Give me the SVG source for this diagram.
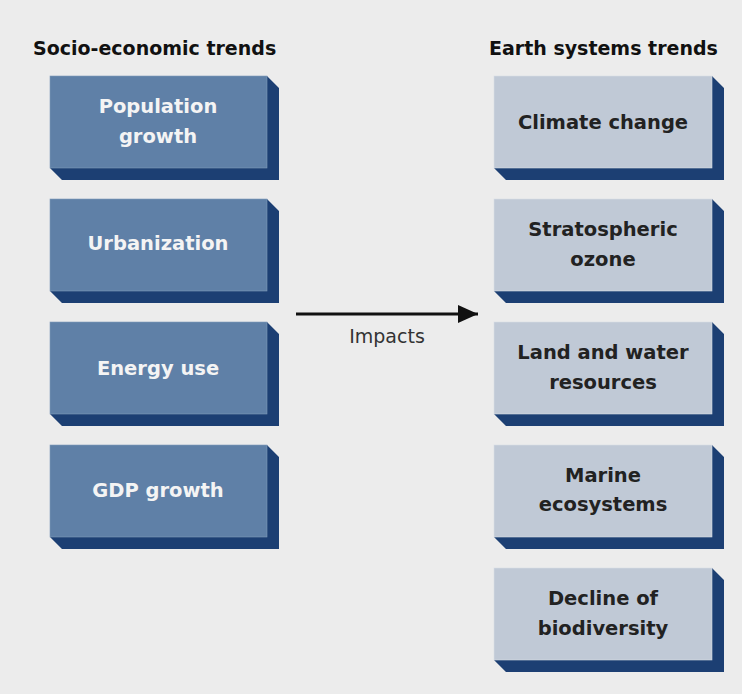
<svg xmlns="http://www.w3.org/2000/svg" width="742" height="694" viewBox="0 0 742 694">
<defs>
<style>
.bg{fill:#ececec}
.side{fill:#1c3f73}
.fl{fill:#5f80a7;stroke:#7f9ab9;stroke-width:0.6}
.fr{fill:#c0c9d6;stroke:#d6dce5;stroke-width:0.6}
.tl{font-family:"DejaVu Sans",Verdana,sans-serif;font-weight:bold;font-size:19.5px;fill:#f4f4f4;text-anchor:middle}
.tr{font-family:"DejaVu Sans",Verdana,sans-serif;font-weight:bold;font-size:19.5px;fill:#222;text-anchor:middle}
.title{font-family:"DejaVu Sans",Verdana,sans-serif;font-weight:bold;font-size:19px;fill:#111}
.lbl{font-family:"DejaVu Sans",Verdana,sans-serif;font-size:19px;fill:#333;text-anchor:middle}
</style>
<marker id="ah" markerWidth="20" markerHeight="18" refX="20" refY="9" orient="auto" markerUnits="userSpaceOnUse" viewBox="0 0 20 18">
<path d="M0,0 L20,9 L0,18 Z" fill="#111"/>
</marker>
</defs>
<rect class="bg" x="0" y="0" width="742" height="694"/>
<text class="title" x="33" y="55">Socio-economic trends</text>
<text class="title" x="489" y="55">Earth systems trends</text>

<g id="population-growth" transform="translate(50,76)">
<path class="side" d="M217,0 L229,12 L229,104 L12,104 L0,92 L217,92 Z"/>
<rect class="fl" x="0" y="0" width="217" height="92"/>
<text class="tl" x="108" y="37">Population</text>
<text class="tl" x="108" y="67">growth</text>
</g>
<g id="urbanization" transform="translate(50,199)">
<path class="side" d="M217,0 L229,12 L229,104 L12,104 L0,92 L217,92 Z"/>
<rect class="fl" x="0" y="0" width="217" height="92"/>
<text class="tl" x="108" y="51">Urbanization</text>
</g>
<g id="energy-use" transform="translate(50,322)">
<path class="side" d="M217,0 L229,12 L229,104 L12,104 L0,92 L217,92 Z"/>
<rect class="fl" x="0" y="0" width="217" height="92"/>
<text class="tl" x="108" y="53">Energy use</text>
</g>
<g id="gdp-growth" transform="translate(50,445)">
<path class="side" d="M217,0 L229,12 L229,104 L12,104 L0,92 L217,92 Z"/>
<rect class="fl" x="0" y="0" width="217" height="92"/>
<text class="tl" x="108" y="52">GDP growth</text>
</g>

<g id="climate-change" transform="translate(494,76)">
<path class="side" d="M218,0 L230,12 L230,104 L12,104 L0,92 L218,92 Z"/>
<rect class="fr" x="0" y="0" width="218" height="92"/>
<text class="tr" x="109" y="53">Climate change</text>
</g>
<g id="stratospheric-ozone" transform="translate(494,199)">
<path class="side" d="M218,0 L230,12 L230,104 L12,104 L0,92 L218,92 Z"/>
<rect class="fr" x="0" y="0" width="218" height="92"/>
<text class="tr" x="109" y="37">Stratospheric</text>
<text class="tr" x="109" y="67">ozone</text>
</g>
<g id="land-water" transform="translate(494,322)">
<path class="side" d="M218,0 L230,12 L230,104 L12,104 L0,92 L218,92 Z"/>
<rect class="fr" x="0" y="0" width="218" height="92"/>
<text class="tr" x="109" y="37">Land and water</text>
<text class="tr" x="109" y="67">resources</text>
</g>
<g id="marine-ecosystems" transform="translate(494,445)">
<path class="side" d="M218,0 L230,12 L230,104 L12,104 L0,92 L218,92 Z"/>
<rect class="fr" x="0" y="0" width="218" height="92"/>
<text class="tr" x="109" y="37">Marine</text>
<text class="tr" x="109" y="66">ecosystems</text>
</g>
<g id="decline-biodiversity" transform="translate(494,568)">
<path class="side" d="M218,0 L230,12 L230,104 L12,104 L0,92 L218,92 Z"/>
<rect class="fr" x="0" y="0" width="218" height="92"/>
<text class="tr" x="109" y="37">Decline of</text>
<text class="tr" x="109" y="67">biodiversity</text>
</g>

<g id="connectors">
<line x1="296" y1="314" x2="478" y2="314" stroke="#111" stroke-width="3" marker-end="url(#ah)"/>
<text class="lbl" x="387" y="343">Impacts</text>
</g>
</svg>
